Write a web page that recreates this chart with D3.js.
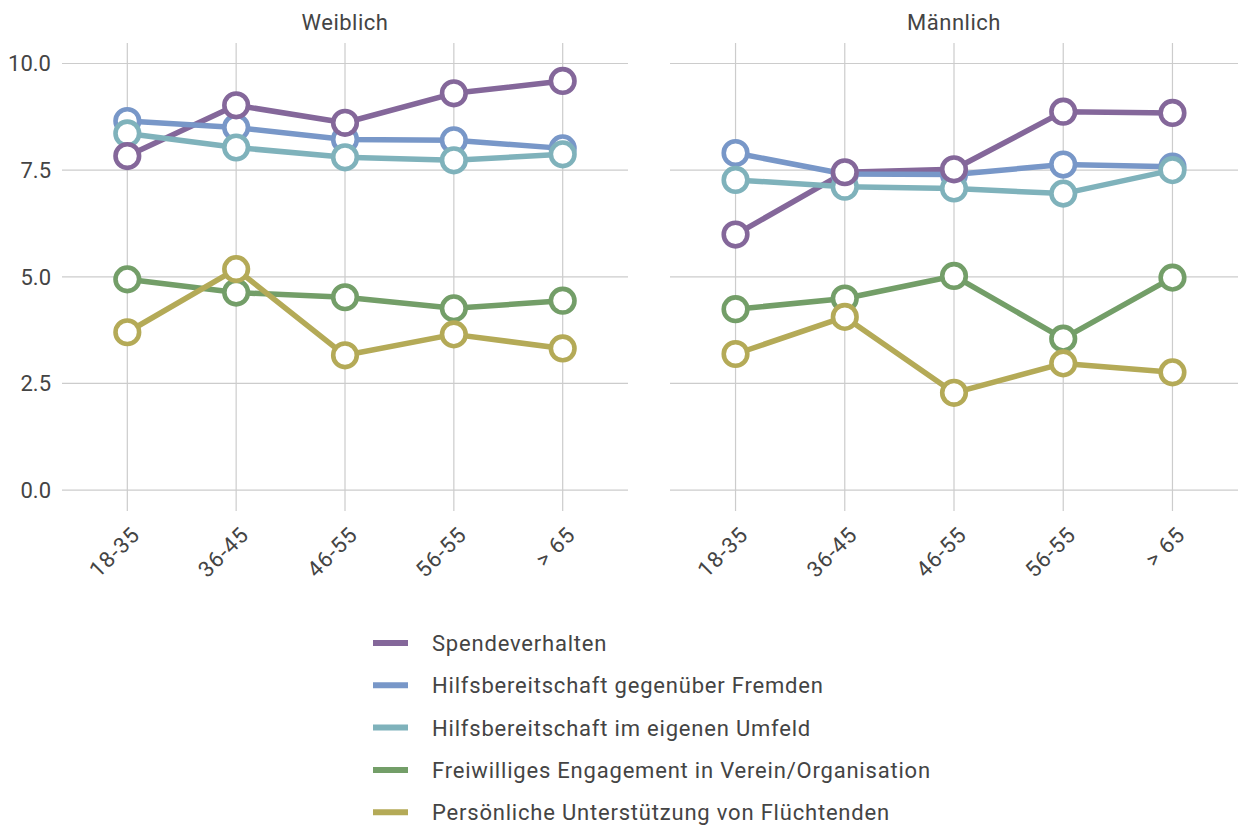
<!DOCTYPE html>
<html>
<head>
<meta charset="utf-8">
<script src="https://cdn.jsdelivr.net/npm/d3@7"></script>
<style>
  body { margin: 0; background: #fff; }
  text { font-family: Roboto, "Liberation Sans", sans-serif; fill: #444; }
</style>
</head>
<body>
<div id="chart"></div>
<script>
// Altersgruppen und Reihen
const ageGroups = ["18-35", "36-45", "46-55", "56-55", "> 65"];
const panels = ["Weiblich", "Männlich"];
const seriesNames = [
    "Spendeverhalten",
    "Hilfsbereitschaft gegenüber Fremden",
    "Hilfsbereitschaft im eigenen Umfeld",
    "Freiwilliges Engagement in Verein/Organisation",
    "Persönliche Unterstützung von Flüchtenden"
];
const seriesColors = ["#84679a", "#7897c8", "#7fb2bb", "#739e68", "#b4aa57"];

// Werte pro Panel, gleiche Reihenfolge wie seriesNames
const weiblich = [
    [7.83, 9.02, 8.61, 9.30, 9.59],
    [8.65, 8.50, 8.22, 8.20, 8.01],
    [8.36, 8.03, 7.80, 7.73, 7.87],
    [4.94, 4.63, 4.52, 4.26, 4.44],
    [3.70, 5.18, 3.16, 3.65, 3.32]
];
const maennlich = [
    [5.99, 7.45, 7.52, 8.87, 8.84],
    [7.90, 7.41, 7.40, 7.63, 7.58],
    [7.27, 7.11, 7.07, 6.95, 7.50],
    [4.24, 4.49, 5.02, 3.55, 4.98],
    [3.19, 4.06, 2.28, 2.97, 2.76]
];
const yTicks = [0, 2.5, 5, 7.5, 10];

const W = 1238, H = 827;
const svg = d3.select("#chart").append("svg")
    .attr("width", W)
    .attr("height", H);

const panelX = [[62, 628], [670, 1238]];
const plotTop = 43, plotBottom = 511;

const y = d3.scaleLinear()
    .domain([-0.49, 10.48])
    .range([plotBottom, plotTop]);

// Marker-Reihenfolge: lila liegt oben
const markerOrder = [1, 2, 3, 4, 0];

[weiblich, maennlich].forEach((data, p) => {
    const x = d3.scalePoint()
        .domain(ageGroups)
        .range(panelX[p])
        .padding(0.6);

    const g = svg.append("g");

    // Gitter
    g.selectAll(".hgrid")
        .data(yTicks)
        .enter()
        .append("line")
        .attr("x1", panelX[p][0])
        .attr("x2", panelX[p][1])
        .attr("y1", d => y(d))
        .attr("y2", d => y(d))
        .attr("stroke", "#cccccc")
        .attr("stroke-width", 1.2);

    g.selectAll(".vgrid")
        .data(ageGroups)
        .enter()
        .append("line")
        .attr("x1", d => x(d))
        .attr("x2", d => x(d))
        .attr("y1", plotTop)
        .attr("y2", plotBottom)
        .attr("stroke", "#cccccc")
        .attr("stroke-width", 1.2);

    // y-Achse nur links
    if (p === 0) {
        g.selectAll(".ylab")
            .data(yTicks)
            .enter()
            .append("text")
            .attr("x", 51)
            .attr("y", d => y(d))
            .attr("dy", "0.36em")
            .attr("text-anchor", "end")
            .style("font-size", "22px")
            .text(d => d.toFixed(1));
    }

    // x-Beschriftung, gedreht
    g.selectAll(".xlab")
        .data(ageGroups)
        .enter()
        .append("text")
        .attr("transform", d => "translate(" + (x(d) + 14) + "," + (plotBottom + 25) + ") rotate(-45)")
        .attr("text-anchor", "end")
        .style("font-size", "22px")
        .style("letter-spacing", "1px")
        .text(d => d);

    // Titel
    g.append("text")
        .attr("x", (panelX[p][0] + panelX[p][1]) / 2)
        .attr("y", 30)
        .attr("text-anchor", "middle")
        .style("font-size", "22px")
        .style("letter-spacing", "0.5px")
        .text(panels[p]);

    const line = d3.line()
        .x((d, i) => x(ageGroups[i]))
        .y(d => y(d));

    data.forEach((vals, s) => {
        g.append("path")
            .datum(vals)
            .attr("d", line)
            .attr("fill", "none")
            .attr("stroke", seriesColors[s])
            .attr("stroke-width", 5.5)
            .attr("stroke-linejoin", "round");
    });

    markerOrder.forEach(s => {
        g.selectAll(".pt" + s)
            .data(data[s])
            .enter()
            .append("circle")
            .attr("cx", (d, i) => x(ageGroups[i]))
            .attr("cy", d => y(d))
            .attr("r", 11.8)
            .attr("fill", "#fff")
            .attr("stroke", seriesColors[s])
            .attr("stroke-width", 4.6);
    });
});

// Legende
const legend = svg.append("g").attr("transform", "translate(373,643)");
seriesNames.forEach((name, i) => {
    legend.append("line")
        .attr("x1", 0)
        .attr("x2", 35)
        .attr("y1", i * 42.3)
        .attr("y2", i * 42.3)
        .attr("stroke", seriesColors[i])
        .attr("stroke-width", 6);
    legend.append("text")
        .attr("x", 59)
        .attr("y", i * 42.3)
        .attr("dy", "0.36em")
        .style("font-size", "22px")
        .style("letter-spacing", "0.8px")
        .text(name);
});
</script>
</body>
</html>
